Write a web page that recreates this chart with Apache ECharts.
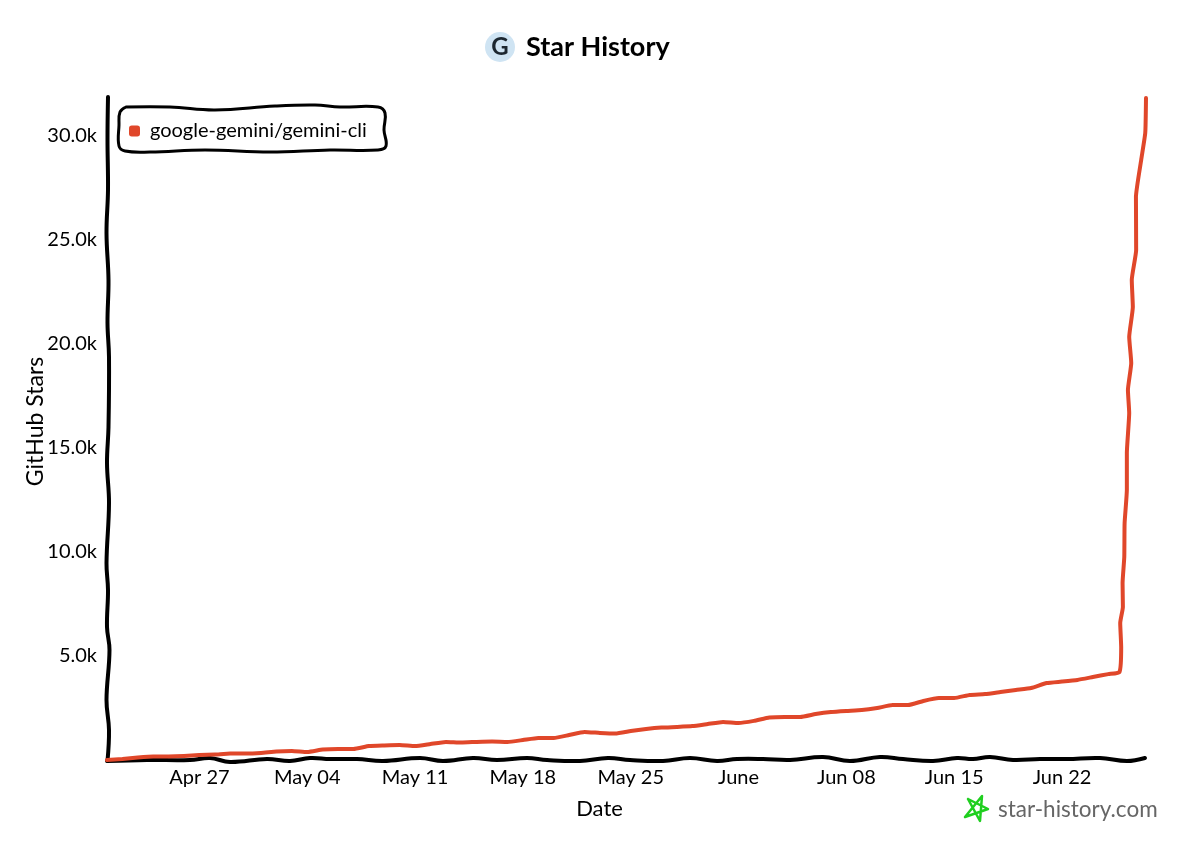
<!DOCTYPE html>
<html>
<head>
<meta charset="utf-8">
<title>Star History</title>
<script src="https://cdn.jsdelivr.net/npm/echarts@6/dist/echarts.min.js"></script>
<style>
html, body { margin: 0; padding: 0; background: #fff; }
#chart { width: 1200px; height: 857px; }
</style>
</head>
<body>
<div id="chart"></div>
<script>
//数据
const seriesName = "google-gemini/gemini-cli";
const starDates = [
    "2025-04-21", "2025-04-22", "2025-04-23", "2025-04-24", "2025-04-25", "2025-04-26", "2025-04-27",
    "2025-04-28", "2025-04-29", "2025-04-30", "2025-05-01", "2025-05-02", "2025-05-03", "2025-05-04",
    "2025-05-05", "2025-05-06", "2025-05-07", "2025-05-08", "2025-05-09", "2025-05-10", "2025-05-11",
    "2025-05-12", "2025-05-13", "2025-05-14", "2025-05-15", "2025-05-16", "2025-05-17", "2025-05-18",
    "2025-05-19", "2025-05-20", "2025-05-21", "2025-05-22", "2025-05-23", "2025-05-24", "2025-05-25",
    "2025-05-26", "2025-05-27", "2025-05-28", "2025-05-29", "2025-05-30", "2025-05-31", "2025-06-01",
    "2025-06-02", "2025-06-03", "2025-06-04", "2025-06-05", "2025-06-06", "2025-06-07", "2025-06-08",
    "2025-06-09", "2025-06-10", "2025-06-11", "2025-06-12", "2025-06-13", "2025-06-14", "2025-06-15",
    "2025-06-16", "2025-06-17", "2025-06-18", "2025-06-19", "2025-06-20", "2025-06-21", "2025-06-22",
    "2025-06-23", "2025-06-24", "2025-06-25",
    "2025-06-25 17:30", "2025-06-25 20:10", "2025-06-25 18:40", "2025-06-25 22:50", "2025-06-25 22:20",
    "2025-06-26 01:00", "2025-06-26 01:30", "2025-06-26 05:00", "2025-06-26 05:00", "2025-06-26 08:40",
    "2025-06-26 06:40", "2025-06-26 11:50", "2025-06-26 08:40", "2025-06-26 14:20", "2025-06-26 12:40",
    "2025-06-26 19:30", "2025-06-26 19:10", "2025-06-27 03:20", "2025-06-27 09:40", "2025-06-27 10:50"
];
const starCounts = [
    0, 50, 120, 170, 170, 190, 240,
    260, 310, 310, 340, 410, 430, 380,
    500, 530, 530, 670, 700, 720, 670,
    770, 870, 840, 870, 890, 870, 960,
    1060, 1060, 1200, 1350, 1300, 1270, 1390,
    1490, 1560, 1590, 1630, 1730, 1830, 1780,
    1880, 2040, 2070, 2070, 2210, 2310, 2360,
    2400, 2500, 2640, 2640, 2840, 2980, 2980,
    3130, 3170, 3270, 3370, 3460, 3700, 3770,
    3850, 3990, 4130,
    4230, 5430, 6590, 7360, 8510,
    9760, 11390, 12980, 14760, 16680,
    17790, 19090, 20340, 21780, 23080,
    24520, 27070, 28850, 30150, 31830
];
const tickDates = ["2025-04-27", "2025-05-04", "2025-05-11", "2025-05-18", "2025-05-25", "2025-06-01", "2025-06-08", "2025-06-15", "2025-06-22"];
const tickLabels = ["Apr 27", "May 04", "May 11", "May 18", "May 25", "June", "Jun 08", "Jun 15", "Jun 22"];

const textFont = "Lato";

function toTime(d) {
    return new Date(d.length > 10 ? d.replace(" ", "T") + ":00" : d + "T00:00:00").getTime();
}
const tickTimes = tickDates.map(toTime);

//手绘风格的轴线和图例框（只是装饰）
const yAxisPath = [[108, 97], [107.5, 140], [108, 190], [106.5, 233], [108.5, 280], [107.5, 323], [109, 357], [108.5, 427], [107, 463], [109, 503], [106.5, 563], [108, 590], [107, 627], [109.5, 650], [106.5, 700], [109, 730], [107.5, 761]];
const xAxisPath = [[107, 761], [147, 760], [190, 760], [210, 758], [230, 762], [267, 759], [290, 761], [310, 758], [330, 759], [357, 759], [383, 761], [420, 758], [443, 761], [473, 758], [497, 760], [527, 758], [547, 760], [580, 761], [608, 758], [630, 760], [663, 761], [690, 758], [717, 761], [737, 759], [763, 759], [790, 760], [823, 757], [850, 761], [880, 757], [903, 759], [933, 761], [957, 758], [973, 759], [990, 757], [1013, 760], [1040, 759], [1067, 759], [1100, 758], [1127, 761], [1145, 758]];
const legendBoxPath = [[126, 107], [170, 107], [215, 110], [275, 106], [315, 105], [340, 107], [378, 107], [385, 113], [384, 130], [386, 146], [378, 150], [330, 150], [270, 152], [205, 150], [150, 152], [125, 151], [119, 146], [119, 125], [120, 112], [126, 107]];
const starPath = [[968, 799], [988, 809], [965, 817], [982, 796], [980, 821], [968, 799]];

function sketchLine(points, color, width, smooth) {
    return {
        type: "polyline",
        silent: true,
        z: 0,
        shape: { points: points, smooth: smooth },
        style: { stroke: color, lineWidth: width, fill: null, lineCap: "round", lineJoin: "round" }
    };
}

const myChart = echarts.init(document.getElementById("chart"), null, { renderer: "canvas" });
const option = {
    backgroundColor: "#fff",
    animation: false,
    title: {
        text: "Star History",
        left: 521,
        top: 29,
        textStyle: { fontFamily: textFont, fontSize: 27, fontWeight: "bold", color: "#000" }
    },
    legend: {
        left: 124,
        top: 116,
        icon: "roundRect",
        itemWidth: 11,
        itemHeight: 11,
        textStyle: { fontFamily: textFont, fontSize: 20, color: "#000", padding: [0, 0, 0, 5] },
        data: [seriesName]
    },
    grid: { left: 107, right: 54, top: 97, bottom: 97 },
    xAxis: {
        type: "value",
        min: toTime("2025-04-21"),
        max: toTime("2025-06-27 10:50"),
        scale: true,
        name: "Date",
        nameLocation: "center",
        nameGap: 38,
        nameTextStyle: { fontFamily: textFont, fontSize: 22, color: "#000", padding: [0, 54, 0, 0] },
        axisLine: { show: false },
        axisTick: { show: false },
        splitLine: { show: false },
        axisLabel: {
            customValues: tickTimes,
            margin: 8,
            hideOverlap: false,
            fontFamily: textFont,
            fontSize: 20,
            color: "#000",
            formatter: function (value) {
                return tickLabels[tickTimes.indexOf(value)];
            }
        }
    },
    yAxis: {
        type: "value",
        min: 0,
        max: 31875,
        interval: 5000,
        name: "GitHub Stars",
        nameLocation: "center",
        nameRotate: 90,
        nameGap: 60,
        nameMoveOverlap: false,
        nameTextStyle: { fontFamily: textFont, fontSize: 23, color: "#000", padding: [0, 0, 0, 14] },
        axisLine: { show: false },
        axisTick: { show: false },
        splitLine: { show: false },
        axisLabel: {
            showMinLabel: false,
            showMaxLabel: false,
            margin: 10,
            fontFamily: textFont,
            fontSize: 20,
            color: "#000",
            formatter: function (value) {
                return (value / 1000).toFixed(1) + "k";
            }
        }
    },
    series: [{
        name: seriesName,
        type: "line",
        showSymbol: false,
        smooth: 0.15,
        clip: false,
        z: 5,
        itemStyle: { color: "#E0472A" },
        lineStyle: { color: "#E0472A", width: 4, cap: "round", join: "round" },
        data: starDates.map(function (d, i) {
            return [toTime(d), starCounts[i]];
        })
    }],
    graphic: [
        sketchLine(yAxisPath, "#000", 4, 0.4),
        sketchLine(xAxisPath, "#000", 4, 0.4),
        sketchLine(legendBoxPath, "#000", 3, 0.4),
        {
            type: "circle",
            silent: true,
            shape: { cx: 500, cy: 47, r: 15 },
            style: { fill: "#CFE4F3" }
        },
        {
            type: "text",
            silent: true,
            style: {
                x: 500, y: 47,
                text: "G",
                align: "center",
                verticalAlign: "middle",
                fill: "#1C2730",
                font: "bold 24px " + textFont
            }
        },
        sketchLine(starPath, "#1FCF1F", 2.5, 0),
        {
            type: "text",
            silent: true,
            style: {
                x: 998, y: 810,
                text: "star-history.com",
                align: "left",
                verticalAlign: "middle",
                fill: "#666",
                font: "22.5px " + textFont
            }
        }
    ]
};
myChart.setOption(option);
</script>
</body>
</html>
